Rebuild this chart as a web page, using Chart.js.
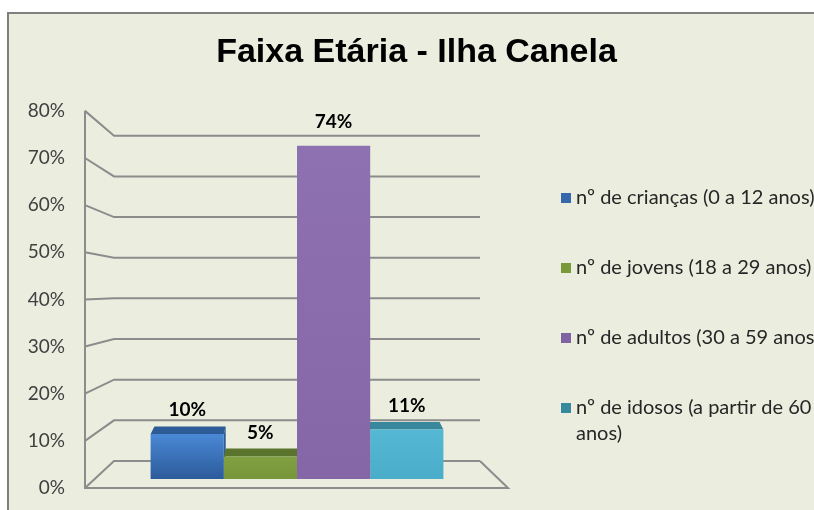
<!DOCTYPE html>
<html lang="pt">
<head>
<meta charset="utf-8">
<title>Faixa Etária - Ilha Canela</title>
<script src="https://cdn.jsdelivr.net/npm/chart.js@4.4.1/dist/chart.umd.min.js"></script>
<style>
  html, body { margin: 0; padding: 0; background: #fff; }
  #grafico { display: block; }
</style>
</head>
<body>
<canvas id="grafico" width="814" height="510"></canvas>
<script>
// --- DADOS ---
const faixas = [
    'nº de crianças (0 a 12 anos)',
    'nº de jovens (18 a 29 anos)',
    'nº de adultos (30 a 59 anos)',
    'nº de idosos (a partir de 60 anos)'
];
const percentuais = [10, 5, 74, 11];
const marcasEixo = [0, 10, 20, 30, 40, 50, 60, 70, 80];

// --- CORES ---
const corFrente = [['#4a88d6', '#2c5b9a'], ['#80a042', '#77953a'], ['#8e71b1', '#8567a7'], ['#55b8d4', '#49adca']];
const corTampa = ['#2d5b96', '#5a742d', '#6e5392', '#39879c'];
const corLegenda = ['#3467ab', '#7a9a3a', '#8064a2', '#36899f'];
const corFundo = '#ebeedf';
const corGrade = '#8c8c8c';
const fonte = 'Lato, "Open Sans", sans-serif';

// moldura: faixa branca em cima e borda cinza
const moldura = {
    id: 'moldura',
    beforeDraw(chart) {
        const ctx = chart.ctx;
        ctx.save();
        ctx.fillStyle = '#fff';
        ctx.fillRect(0, 0, chart.width, chart.height);
        ctx.fillStyle = corFundo;
        ctx.fillRect(8, 13, chart.width - 8, chart.height - 13);
        ctx.fillStyle = '#7f7f7f';
        ctx.fillRect(7, 12, chart.width - 7, 2);
        ctx.fillRect(7, 12, 2, chart.height - 12);
        ctx.restore();
    }
};

// paredes em perspectiva, rótulos do eixo e faces 3D das barras
const caixa3d = {
    id: 'caixa3d',
    beforeDatasetsDraw(chart) {
        const ctx = chart.ctx;
        const sy = chart.scales.y;
        const {left, right, top, bottom} = chart.chartArea;
        const frente = v => bottom + 9 + (sy.getPixelForValue(v) - bottom) * 1.047;
        const atras = v => bottom - 18 + (sy.getPixelForValue(v) - bottom) * 0.903;
        const xEixo = left - 29;
        const xDir = right + 28;

        ctx.save();
        ctx.strokeStyle = corGrade;
        ctx.lineWidth = 2;
        ctx.lineJoin = 'miter';

        // grade: diagonal da parede lateral + linha da parede do fundo
        marcasEixo.forEach(v => {
            ctx.beginPath();
            ctx.moveTo(xEixo, frente(v));
            ctx.lineTo(left, atras(v));
            ctx.lineTo(right, atras(v));
            ctx.stroke();
        });

        // eixo vertical e chão
        ctx.beginPath();
        ctx.moveTo(xEixo, frente(marcasEixo[marcasEixo.length - 1]));
        ctx.lineTo(xEixo, frente(0));
        ctx.lineTo(xDir, frente(0));
        ctx.lineTo(right, atras(0));
        ctx.stroke();

        // rótulos do eixo
        ctx.fillStyle = '#404040';
        ctx.font = '19px ' + fonte;
        ctx.textAlign = 'right';
        ctx.textBaseline = 'middle';
        marcasEixo.forEach(v => ctx.fillText(v + '%', xEixo - 20, frente(v)));

        // tampas e laterais das barras
        const vx = (left + right) / 2;
        const vy = top + 27;
        const f = 0.026;
        const fuga = (px, py) => [px + (vx - px) * f, py + (vy - py) * f];

        chart.data.datasets.forEach((ds, i) => {
            const bar = chart.getDatasetMeta(i).data[0];
            const x0 = bar.x - bar.width / 2;
            const x1 = bar.x + bar.width / 2;
            const t = bar.y;
            const b = bar.base;
            const xl = bar.x < vx ? x1 : x0;

            ctx.fillStyle = corTampa[i];
            ctx.beginPath();
            ctx.moveTo(xl, t);
            ctx.lineTo(...fuga(xl, t));
            ctx.lineTo(...fuga(xl, b));
            ctx.lineTo(xl, b);
            ctx.closePath();
            ctx.fill();

            ctx.beginPath();
            ctx.moveTo(x0, t);
            ctx.lineTo(...fuga(x0, t));
            ctx.lineTo(...fuga(x1, t));
            ctx.lineTo(x1, t);
            ctx.closePath();
            ctx.fill();
        });
        ctx.restore();
    },
    afterDatasetsDraw(chart) {
        const ctx = chart.ctx;
        ctx.save();
        ctx.fillStyle = '#000';
        ctx.font = 'bold 19px ' + fonte;
        ctx.textAlign = 'center';
        ctx.textBaseline = 'middle';
        chart.data.datasets.forEach((ds, i) => {
            const bar = chart.getDatasetMeta(i).data[0];
            ctx.fillText(ds.data[0] + '%', bar.x, bar.y - 24);
        });
        ctx.restore();
    }
};

// legenda do lado direito, com quebra de linha
const legendaLateral = {
    id: 'legendaLateral',
    afterDraw(chart, args, opts) {
        const ctx = chart.ctx;
        ctx.save();
        ctx.font = '20px ' + fonte;
        ctx.textBaseline = 'middle';
        ctx.textAlign = 'left';
        chart.data.datasets.forEach((ds, i) => {
            const y = opts.y + i * opts.passo;
            ctx.fillStyle = corLegenda[i];
            ctx.fillRect(opts.x, y - 5, 10, 10);

            // quebra o texto se passar da largura
            const linhas = [];
            let atual = '';
            ds.label.split(' ').forEach(p => {
                const teste = atual ? atual + ' ' + p : p;
                if (atual && ctx.measureText(teste).width > opts.largura) {
                    linhas.push(atual);
                    atual = p;
                } else {
                    atual = teste;
                }
            });
            linhas.push(atual);

            ctx.fillStyle = '#262626';
            linhas.forEach((l, k) => ctx.fillText(l, opts.x + 15, y + k * 26));
        });
        ctx.restore();
    }
};

const ctx = document.getElementById('grafico');

new Chart(ctx, {
    type: 'bar',
    data: {
        labels: [''],
        datasets: percentuais.map((v, i) => ({
            label: faixas[i],
            data: [v],
            backgroundColor: c => {
                const area = c.chart.chartArea;
                if (!area) return corFrente[i][0];
                const g = c.chart.ctx.createLinearGradient(0, c.chart.scales.y.getPixelForValue(v), 0, area.bottom);
                g.addColorStop(0, corFrente[i][0]);
                g.addColorStop(1, corFrente[i][1]);
                return g;
            },
            borderWidth: 0,
            categoryPercentage: 0.8,
            barPercentage: 1
        }))
    },
    options: {
        responsive: false,
        animation: false,
        layout: {
            padding: { left: 19, right: 0, top: 0, bottom: 31 }
        },
        plugins: {
            legend: { display: false },
            tooltip: { enabled: false },
            title: {
                display: true,
                text: 'Faixa Etária - Ilha Canela',
                color: '#000',
                font: { family: '"Liberation Sans", Arial, sans-serif', size: 34, weight: 'bold' },
                padding: { top: 32, bottom: 46 }
            },
            legendaLateral: { x: 561, y: 198, passo: 70, largura: 256 }
        },
        scales: {
            x: { display: false },
            y: {
                min: 0,
                max: 80,
                grid: { display: false },
                border: { display: false },
                ticks: { display: false },
                afterBuildTicks: s => { s.ticks = marcasEixo.map(v => ({ value: v })); },
                afterFit: s => { s.width = 95; }
            },
            yR: {
                type: 'linear',
                position: 'right',
                grid: { display: false },
                border: { display: false },
                ticks: { display: false },
                afterFit: s => { s.width = 334; }
            }
        }
    },
    plugins: [moldura, caixa3d, legendaLateral]
});
</script>
</body>
</html>
